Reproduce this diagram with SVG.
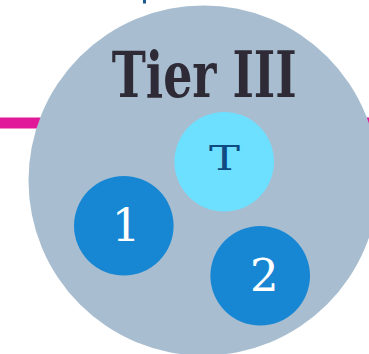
<svg xmlns="http://www.w3.org/2000/svg" width="369" height="354" viewBox="0 0 369 354">
  <style>
    .tier { fill: #a8bed0; }
    .team { fill: #1787d4; }
    .lead { fill: #6ddfff; }
    .title { font-family: "DejaVu Serif", "Liberation Serif", serif; font-weight: bold; fill: #2e2b36; }
    .num { font-family: "DejaVu Serif", "Liberation Serif", serif; fill: #ffffff; font-size: 45px; text-anchor: middle; }
    .lbl { font-family: "DejaVu Serif", "Liberation Serif", serif; fill: #0e4b82; font-size: 34px; text-anchor: middle; }
    .link { stroke: #e2189a; stroke-width: 11; fill: none; }
  </style>
  <rect width="369" height="354" fill="#ffffff"/>
  <g id="connectors">
    <line class="link" x1="0" y1="123" x2="369" y2="123"/>
    <rect x="143" y="0" width="3" height="3.5" fill="#1c5a92"/>
  </g>
  <g id="tier-3">
    <circle class="tier" cx="203.5" cy="180.5" r="175"/>
    <text class="title" x="111.7" y="96.7" font-size="64" textLength="185" lengthAdjust="spacingAndGlyphs">Tier III</text>
  </g>
  <g id="node-t">
    <circle class="lead" cx="224.2" cy="161.8" r="49.8"/>
    <text class="lbl" x="224.5" y="169.5" textLength="31" lengthAdjust="spacingAndGlyphs">T</text>
  </g>
  <g id="node-1">
    <circle class="team" cx="123.8" cy="225.8" r="49.8"/>
    <text class="num" x="126" y="240.7">1</text>
  </g>
  <g id="node-2">
    <circle class="team" cx="260.2" cy="275.8" r="49.8"/>
    <text class="num" x="264.3" y="290.7">2</text>
  </g>
</svg>
